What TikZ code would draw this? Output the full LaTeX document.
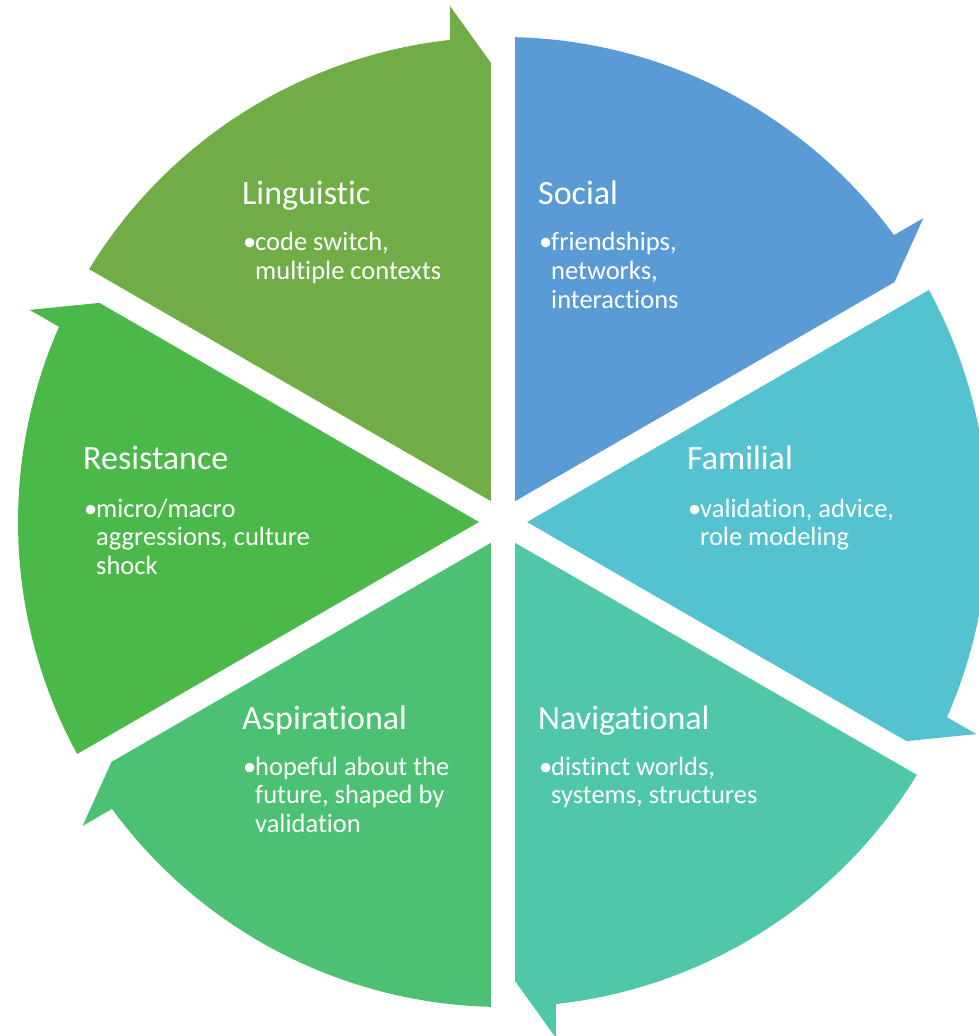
\documentclass[tikz,border=0pt]{standalone}
\usepackage{fontspec}
\setmainfont{Carlito}[Ligatures={NoCommon,NoContextual}]
\usepackage{array}

% segment colours
\definecolor{cLing}{RGB}{112,173,71}
\definecolor{cSoc}{RGB}{91,155,213}
\definecolor{cFam}{RGB}{84,194,207}
\definecolor{cNav}{RGB}{80,199,168}
\definecolor{cAsp}{RGB}{76,193,115}
\definecolor{cRes}{RGB}{75,185,74}

\tikzset{
  titletext/.style={anchor=base west, inner sep=0pt, text=white,
    font=\fontsize{34}{40}\selectfont},
  bullettext/.style={anchor=base west, inner sep=0pt, text=white,
    font=\fontsize{26.5}{28.6}\selectfont},
}

% one 60-degree segment of the cycle, its arrow head at the clockwise end
% #1 = colour, #2 = angle of the clockwise boundary
\newcommand{\cyclesegment}[2]{%
  \fill[#1, rotate=#2]
    (30:24) -- (459,12) -- (516,53) -- (6.27:485)
    arc[start angle=6.27, end angle=58.58, radius=485] -- cycle;
}

% bullet list: first line carries the bullet, the rest hang under the text
\newcommand{\bulletlines}[1]{%
  \begin{tabular}[t]{@{}p{12pt}@{}l@{}}#1\end{tabular}}

\begin{document}
\begin{tikzpicture}[x=1pt, y=1pt]
  \useasboundingbox (-503,-514) rectangle (475,522);

  \cyclesegment{cSoc}{30}
  \cyclesegment{cFam}{-30}
  \cyclesegment{cNav}{-90}
  \cyclesegment{cAsp}{-150}
  \cyclesegment{cRes}{150}
  \cyclesegment{cLing}{90}

  % Linguistic
  \node[titletext]  (lingT) at (-261,317.5) {Linguistic};
  \node[bullettext] (lingB) at (-260,271) {\bulletlines{\textbullet & code switch,\\ & multiple contexts}};
  % Social
  \node[titletext]  (socT) at (35,317.5) {Social};
  \node[bullettext] (socB) at (36,271) {\bulletlines{\textbullet & friendships,\\ & networks,\\ & interactions}};
  % Familial
  \node[titletext]  (famT) at (184,52) {Familial};
  \node[bullettext] (famB) at (185,5) {\bulletlines{\textbullet & validation, advice,\\ & role modeling}};
  % Resistance
  \node[titletext]  (resT) at (-420,52) {Resistance};
  \node[bullettext] (resB) at (-419,5) {\bulletlines{\textbullet & micro/macro\\ & aggressions, culture\\ & shock}};
  % Aspirational
  \node[titletext]  (aspT) at (-261,-207) {Aspirational};
  \node[bullettext] (aspB) at (-260,-253) {\bulletlines{\textbullet & hopeful about the\\ & future, shaped by\\ & validation}};
  % Navigational
  \node[titletext]  (navT) at (35,-207) {Navigational};
  \node[bullettext] (navB) at (36,-253) {\bulletlines{\textbullet & distinct worlds,\\ & systems, structures}};
\end{tikzpicture}
\end{document}
